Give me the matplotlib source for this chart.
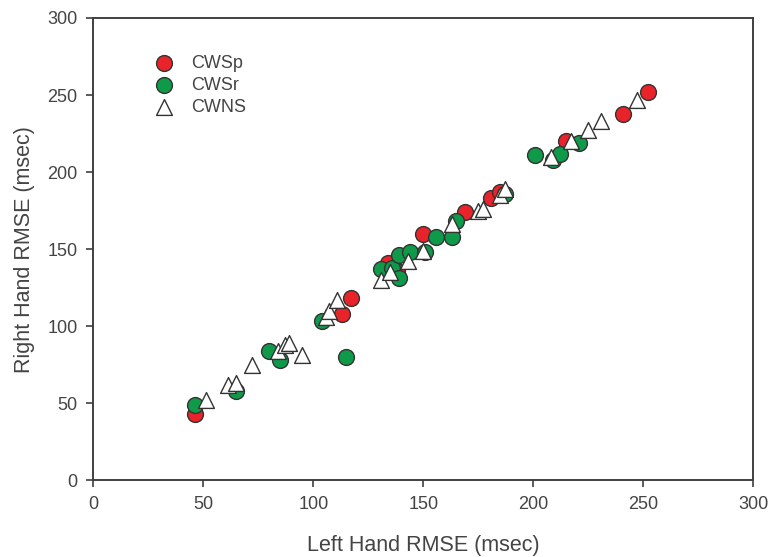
import matplotlib.pyplot as plt

plt.rcParams['font.family'] = ['Liberation Sans', 'DejaVu Sans']

# CWSp (red circles)
cwsp_x = [46, 113, 117, 134, 138, 150, 169, 181, 185, 215, 241, 252]
cwsp_y = [43, 108, 118, 141, 136, 160, 174, 183, 187, 220, 238, 252]

# CWSr (green circles)
cwsr_x = [46, 65, 80, 85, 115, 104, 131, 136, 139, 139, 144, 151, 156, 163, 165, 187, 201, 209, 212, 221]
cwsr_y = [49, 58, 84, 78, 80, 103, 137, 138, 146, 131, 148, 148, 158, 158, 168, 186, 211, 208, 212, 219]

# CWNS (open triangles)
cwns_x = [51, 61, 65, 72, 84, 87, 89, 95, 106, 107, 111, 131, 135, 143, 150, 163, 175, 177, 185, 187, 208, 217, 225, 231, 247]
cwns_y = [52, 62, 63, 75, 84, 88, 89, 81, 106, 110, 117, 130, 135, 142, 149, 166, 175, 176, 185, 189, 210, 220, 227, 233, 247]

fig = plt.figure(figsize=(7.7, 5.57), dpi=100)
ax = fig.add_axes([0.1213, 0.138, 0.8567, 0.8297])

edge = '#333333'
ax.scatter(cwsp_x, cwsp_y, s=130, c='#e8242a', edgecolors=edge, linewidths=1.0, label='CWSp', zorder=3)
ax.scatter(cwsr_x, cwsr_y, s=130, c='#0f9a4a', edgecolors=edge, linewidths=1.0, label='CWSr', zorder=4)
ax.scatter(cwns_x, cwns_y, s=130, marker='^', c='white', edgecolors=edge, linewidths=1.0, label='CWNS', zorder=5)

ax.set_xlim(0, 300)
ax.set_ylim(0, 300)
ax.set_xticks(range(0, 301, 50))
ax.set_yticks(range(0, 301, 50))

for s in ax.spines.values():
    s.set_color('#404040')
    s.set_linewidth(1.4)
ax.tick_params(direction='out', length=5, width=1.2, color='#404040',
               labelsize=13, labelcolor='#444444', pad=6.5)

ax.set_xlabel('Left Hand RMSE (msec)', fontsize=15.5, color='#444444', labelpad=16)
ax.set_ylabel('Right Hand RMSE (msec)', fontsize=15.5, color='#444444', labelpad=9)

leg = ax.legend(loc='upper left', bbox_to_anchor=(0.055, 0.955), frameon=False,
                fontsize=13, handletextpad=0.5, labelspacing=0.28,
                labelcolor='#444444')

fig.savefig('out.png', dpi=100)
